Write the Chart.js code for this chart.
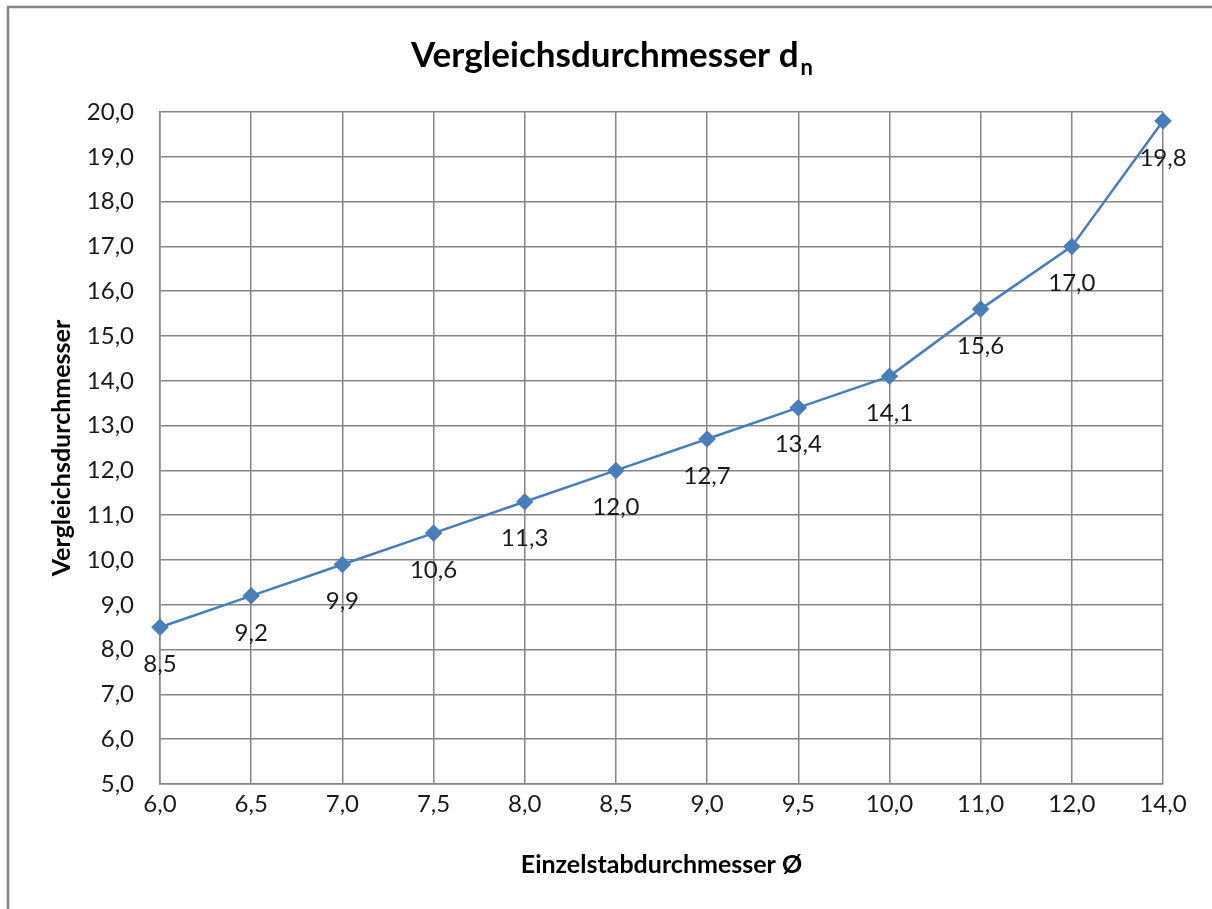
<!DOCTYPE html>
<html>
<head>
<meta charset="utf-8">
<script src="https://cdn.jsdelivr.net/npm/chart.js@4"></script>
<style>
  html, body { margin: 0; padding: 0; background: #ffffff; }
  #wrap { width: 1212px; height: 909px; position: relative; }
</style>
</head>
<body>
<div id="wrap"><canvas id="chart"></canvas></div>
<script>
// Einzelstabdurchmesser (category axis) and Vergleichsdurchmesser values
const diameters = [6.0, 6.5, 7.0, 7.5, 8.0, 8.5, 9.0, 9.5, 10.0, 11.0, 12.0, 14.0];
const equivalentDiameters = [8.5, 9.2, 9.9, 10.6, 11.3, 12.0, 12.7, 13.4, 14.1, 15.6, 17.0, 19.8];
const yTicks = [5, 6, 7, 8, 9, 10, 11, 12, 13, 14, 15, 16, 17, 18, 19, 20];

const titleMain = 'Vergleichsdurchmesser d';
const titleSub = 'n';
const xTitle = 'Einzelstabdurchmesser Ø';
const yTitle = 'Vergleichsdurchmesser';

const FONT = 'Lato, "Open Sans", sans-serif';
const GRID = '#868686';
const BLUE = '#4a7ebb';

const fmt = v => v.toFixed(1).replace('.', ',');
const categoryLabels = diameters.map(fmt);

// frame lines, chart title with subscript, value labels under the points
const decorations = {
  id: 'decorations',
  beforeDraw(chart) {
    const ctx = chart.ctx;
    ctx.save();
    ctx.strokeStyle = GRID;
    ctx.lineWidth = 2.5;
    ctx.beginPath();
    ctx.moveTo(8, 909);
    ctx.lineTo(8, 7);
    ctx.lineTo(1212, 7);
    ctx.stroke();
    ctx.restore();
  },
  afterDatasetsDraw(chart) {
    const ctx = chart.ctx;
    ctx.save();
    // value labels
    ctx.fillStyle = '#1a1a1a';
    ctx.font = '24px ' + FONT;
    ctx.textAlign = 'center';
    ctx.textBaseline = 'middle';
    const meta = chart.getDatasetMeta(0);
    meta.data.forEach((pt, i) => {
      ctx.fillText(fmt(equivalentDiameters[i]), pt.x, pt.y + 37);
    });
    // title
    const mainFont = 'bold 35px ' + FONT;
    const subFont = 'bold 22px ' + FONT;
    ctx.font = mainFont;
    const wMain = ctx.measureText(titleMain).width;
    ctx.font = subFont;
    const wSub = ctx.measureText(titleSub).width;
    const total = wMain + 2 + wSub;
    const x0 = 612 - total / 2;
    ctx.textAlign = 'left';
    ctx.textBaseline = 'alphabetic';
    ctx.fillStyle = '#000000';
    ctx.font = mainFont;
    ctx.fillText(titleMain, x0, 67);
    ctx.font = subFont;
    ctx.fillText(titleSub, x0 + wMain + 2, 75);
    ctx.restore();
  }
};

new Chart(document.getElementById('chart'), {
  type: 'line',
  data: {
    labels: categoryLabels,
    datasets: [{
      data: equivalentDiameters,
      borderColor: BLUE,
      backgroundColor: BLUE,
      borderWidth: 2.5,
      pointStyle: 'rectRot',
      pointRadius: 7,
      pointHoverRadius: 7,
      pointBackgroundColor: BLUE,
      pointBorderColor: BLUE,
      tension: 0,
      fill: false
    }]
  },
  options: {
    responsive: true,
    maintainAspectRatio: false,
    animation: false,
    devicePixelRatio: 1,
    layout: { padding: { top: 112, right: 49, bottom: 0, left: 0 } },
    plugins: {
      legend: { display: false },
      title: { display: false },
      tooltip: { enabled: false }
    },
    scales: {
      x: {
        type: 'category',
        offset: false,
        grid: { color: GRID, lineWidth: 1.5, drawTicks: false },
        border: { color: GRID, width: 1.5 },
        ticks: {
          color: '#1a1a1a',
          font: { family: FONT, size: 24 },
          padding: 6,
          maxRotation: 0,
          autoSkip: false
        },
        title: {
          display: true,
          text: xTitle,
          color: '#000000',
          font: { family: FONT, size: 25, weight: 'bold' },
          padding: { top: 0, bottom: 29 }
        },
        afterFit(scale) { scale.height = 125; }
      },
      y: {
        min: 5,
        max: 20,
        grid: { color: GRID, lineWidth: 1.5, drawTicks: false },
        border: { color: GRID, width: 1.5 },
        afterBuildTicks(scale) { scale.ticks = yTicks.map(v => ({ value: v })); },
        ticks: {
          color: '#1a1a1a',
          font: { family: FONT, size: 24 },
          padding: 26,
          callback: v => fmt(v)
        },
        title: {
          display: true,
          text: yTitle,
          color: '#000000',
          font: { family: FONT, size: 25, weight: 'bold' },
          padding: { top: 47, bottom: 0 }
        },
        afterFit(scale) { scale.width = 160; }
      }
    }
  },
  plugins: [decorations]
});
</script>
</body>
</html>
